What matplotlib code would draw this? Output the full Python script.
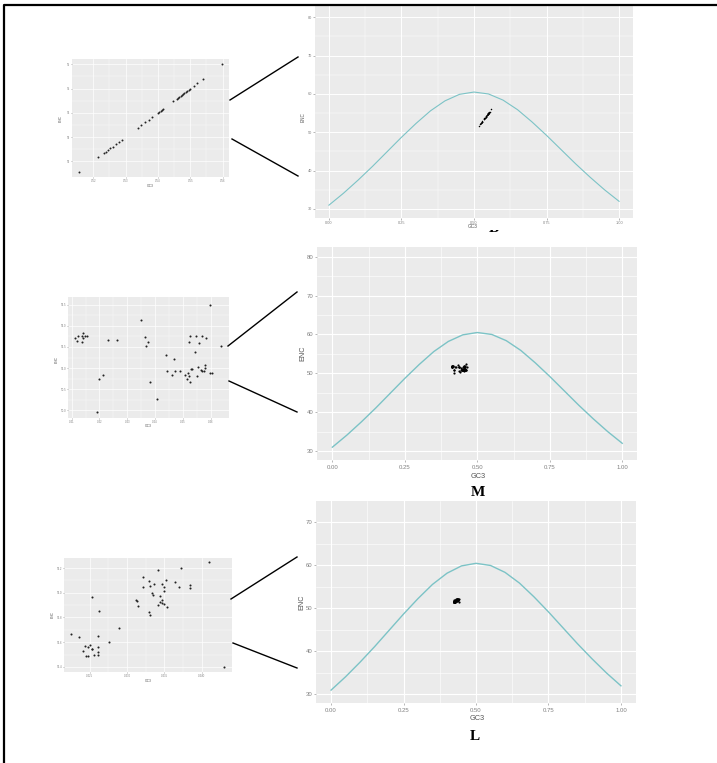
import numpy as np
import matplotlib.pyplot as plt
from matplotlib.lines import Line2D
from matplotlib.transforms import Bbox, TransformedBbox

W, H = 717, 763

# expected ENC curve
curve_gc3 = [0.00, 0.05, 0.10, 0.15, 0.20, 0.25, 0.30, 0.35, 0.40, 0.45, 0.50,
             0.55, 0.60, 0.65, 0.70, 0.75, 0.80, 0.85, 0.90, 0.95, 1.00]
curve_enc = [31.0, 34.1, 37.5, 41.1, 44.9, 48.7, 52.3, 55.6, 58.2, 59.9, 60.5,
             60.0, 58.4, 55.9, 52.7, 49.2, 45.5, 41.8, 38.3, 35.0, 32.0]

# panel B (top)
b_gc3 = [0.5157, 0.5216, 0.5234, 0.5240, 0.5245, 0.5253, 0.5260, 0.5271, 0.5279,
         0.5288, 0.5337, 0.5349, 0.5361, 0.5371, 0.5382, 0.5400, 0.5404, 0.5408,
         0.5412, 0.5416, 0.5446, 0.5458, 0.5462, 0.5466, 0.5470, 0.5474, 0.5478,
         0.5482, 0.5487, 0.5491, 0.5495, 0.5499, 0.5511, 0.5521, 0.5539, 0.5597]
b_enc = [51.56, 52.17, 52.35, 52.40, 52.46, 52.53, 52.60, 52.72, 52.80,
         52.88, 53.38, 53.50, 53.62, 53.72, 53.83, 54.00, 54.04, 54.08,
         54.13, 54.17, 54.47, 54.58, 54.62, 54.66, 54.70, 54.74, 54.79,
         54.83, 54.87, 54.91, 54.95, 54.99, 55.12, 55.21, 55.40, 56.00]

# panel M (middle)
m_gc3 = [0.4111, 0.4118, 0.4124, 0.4136, 0.4138, 0.4141, 0.4142, 0.4149, 0.4154,
         0.4191, 0.4200, 0.4213, 0.4231, 0.4263, 0.4348, 0.4363, 0.4366, 0.4373,
         0.4381, 0.4406, 0.4438, 0.4442, 0.4460, 0.4470, 0.4473, 0.4488, 0.4509,
         0.4516, 0.4520, 0.4522, 0.4523, 0.4526, 0.4527, 0.4528, 0.4532, 0.4545,
         0.4549, 0.4550, 0.4556, 0.4557, 0.4565, 0.4568, 0.4570, 0.4575, 0.4578,
         0.4580, 0.4584, 0.4596, 0.4596, 0.4604, 0.4638]
m_enc = [51.71, 51.64, 51.76, 51.62, 51.77, 51.84, 51.70, 51.76, 51.76,
         49.97, 50.75, 50.84, 51.66, 51.66, 52.13, 51.74, 51.53, 51.62,
         50.68, 50.27, 51.32, 50.92, 50.84, 51.21, 50.92, 50.92, 50.84,
         50.75, 50.89, 51.62, 50.81, 51.77, 50.67, 50.97, 50.99, 51.39,
         51.77, 50.82, 51.03, 51.59, 50.96, 51.76, 50.93, 50.93, 51.07,
         51.00, 51.72, 52.48, 50.89, 50.89, 51.53]

# panel L (bottom)
l_gc3 = [0.42254, 0.42357, 0.42406, 0.42433, 0.42455, 0.42478, 0.42482, 0.42504,
         0.42527, 0.42531, 0.42531, 0.42554, 0.42607, 0.42607, 0.42607, 0.42612,
         0.42630, 0.42755, 0.42885, 0.43118, 0.43136, 0.43140, 0.43212, 0.43212,
         0.43288, 0.43293, 0.43310, 0.43310, 0.43337, 0.43346, 0.43364, 0.43413,
         0.43418, 0.43435, 0.43440, 0.43462, 0.43462, 0.43467, 0.43489, 0.43494,
         0.43498, 0.43516, 0.43538, 0.43641, 0.43691, 0.43717, 0.43843, 0.43843,
         0.44098, 0.44295]
l_enc = [51.666, 51.639, 51.530, 51.568, 51.492, 51.492, 51.563, 51.579,
         51.546, 51.541, 51.964, 51.498, 51.563, 51.650, 51.519, 51.498,
         51.856, 51.598, 51.717, 51.942, 51.932, 51.891, 52.124, 52.045,
         51.845, 52.097, 52.051, 51.823, 51.997, 51.980, 52.067, 52.186,
         51.902, 51.975, 51.926, 51.915, 51.942, 52.067, 52.018, 51.907,
         52.045, 52.105, 51.885, 52.089, 52.043, 52.203, 52.062, 52.037,
         52.252, 51.400]

main_xticks = [0.00, 0.25, 0.50, 0.75, 1.00]
main_xlabels = ["0.00", "0.25", "0.50", "0.75", "1.00"]

CURVE_COLOR = "#7CC3C6"
PANEL_BG = "#EBEBEB"
TICK_COLOR = "#808080"
LABEL_COLOR = "#555555"

plt.rcParams["font.family"] = ["Liberation Sans", "DejaVu Sans"]

fig = plt.figure(figsize=(W / 100, H / 100), dpi=100)


def px_axes(x0, y0, x1, y1):
    return fig.add_axes([x0 / W, 1 - y1 / H, (x1 - x0) / W, (y1 - y0) / H])


def ptext(x, y, s, **kw):
    return fig.text(x / W, 1 - y / H, s, **kw)


def pline(x0, y0, x1, y1, lw=1.0):
    fig.add_artist(Line2D([x0 / W, x1 / W], [1 - y0 / H, 1 - y1 / H],
                          color="black", lw=lw, transform=fig.transFigure))


def gg_style(ax, xticks, xlabels, yticks, ylabels, xlim, ylim, fs, tlen, xpad, ypad, glw):
    ax.set_facecolor(PANEL_BG)
    for sp in ax.spines.values():
        sp.set_visible(False)
    ax.set_xlim(xlim)
    ax.set_ylim(ylim)
    ax.set_xticks(xticks)
    ax.set_xticklabels(xlabels)
    ax.set_yticks(yticks)
    ax.set_yticklabels(ylabels)
    xt = np.array(xticks)
    yt = np.array(yticks)
    ax.set_xticks((xt[:-1] + xt[1:]) / 2, minor=True)
    ax.set_yticks((yt[:-1] + yt[1:]) / 2, minor=True)
    ax.grid(which="major", color="white", lw=glw)
    ax.grid(which="minor", color="white", lw=glw * 0.5)
    ax.set_axisbelow(True)
    ax.tick_params(which="major", length=tlen, width=0.4, color=TICK_COLOR,
                   labelsize=fs, labelcolor=TICK_COLOR)
    ax.tick_params(axis="x", pad=xpad)
    ax.tick_params(axis="y", pad=ypad)
    ax.tick_params(which="minor", length=0)


main_yticks = [30, 40, 50, 60, 70, 80]

# ---------------- row B ----------------
ax1 = px_axes(315, 5, 633, 218)
gg_style(ax1, main_xticks, main_xlabels, main_yticks, [str(v) for v in main_yticks],
         (-0.048, 1.048), (27.65, 83.2), 2.8, 1.2, 0.8, 0.8, 0.7)
ax1.plot(curve_gc3, curve_enc, color=CURVE_COLOR, lw=0.8)
ax1.scatter(b_gc3, b_enc, s=1.2, color="black", lw=0)
ptext(303, 117, "ENC", rotation=90, fontsize=3.3, color=LABEL_COLOR, ha="center", va="center")
ptext(473, 226, "GC3", fontsize=3.5, color=LABEL_COLOR, ha="center", va="center")

ins1 = px_axes(72, 59, 229, 177)
gg_style(ins1, [0.52, 0.53, 0.54, 0.55, 0.56], ["0.52", "0.53", "0.54", "0.55", "0.56"],
         [52, 53, 54, 55, 56], ["52", "53", "54", "55", "56"],
         (0.5134, 0.5620), (51.35, 56.22), 2.0, 0.8, 0.6, 0.6, 0.5)
ins1.scatter(b_gc3, b_enc, s=2.0, color="#222222", lw=0)
ptext(61, 118, "ENC", rotation=90, fontsize=2.4, color=LABEL_COLOR, ha="center", va="center")
ptext(150, 186, "GC3", fontsize=2.4, color=LABEL_COLOR, ha="center", va="center")

pline(230, 100, 298, 57)
pline(232, 139, 298, 176)

# partly hidden panel letter under the top plot
btxt = ptext(494, 228, "B", fontsize=11, fontweight="bold", family="Liberation Serif",
             ha="center", va="center", color="black")
btxt.set_clip_box(TransformedBbox(Bbox([[480 / W, 1 - 236 / H], [510 / W, 1 - 230 / H]]),
                                  fig.transFigure))
btxt.set_clip_on(True)

# ---------------- row M ----------------
ax2 = px_axes(317, 247, 637, 460)
gg_style(ax2, main_xticks, main_xlabels, main_yticks, [str(v) for v in main_yticks],
         (-0.053, 1.051), (27.7, 82.5), 4.3, 1.5, 2.3, 1.3, 0.8)
ax2.plot(curve_gc3, curve_enc, color=CURVE_COLOR, lw=1.0)
ax2.scatter(m_gc3, m_enc, s=2.5, color="black", lw=0)
ptext(303, 353, "ENC", rotation=90, fontsize=5.2, color=LABEL_COLOR, ha="center", va="center")
ptext(478, 476, "GC3", fontsize=5.3, color=LABEL_COLOR, ha="center", va="center")
ptext(478, 492, "M", fontsize=11, fontweight="bold", family="Liberation Serif",
      ha="center", va="center", color="black")

ins2 = px_axes(68, 297, 229, 418)
gg_style(ins2, [0.41, 0.42, 0.43, 0.44, 0.45, 0.46],
         ["0.41", "0.42", "0.43", "0.44", "0.45", "0.46"],
         [50.0, 50.5, 51.0, 51.5, 52.0, 52.5],
         ["50.0", "50.5", "51.0", "51.5", "52.0", "52.5"],
         (0.4087, 0.4666), (49.82, 52.68), 2.0, 0.8, 0.6, 0.6, 0.5)
ins2.scatter(m_gc3, m_enc, s=2.2, color="#222222", lw=0)
ptext(57, 360, "ENC", rotation=90, fontsize=2.4, color=LABEL_COLOR, ha="center", va="center")
ptext(148, 426, "GC3", fontsize=2.4, color=LABEL_COLOR, ha="center", va="center")

pline(228, 346, 297, 292)
pline(229, 381, 297, 412)

# ---------------- row L ----------------
ax3 = px_axes(316, 501, 636, 703)
gg_style(ax3, main_xticks, main_xlabels, [30, 40, 50, 60, 70], ["30", "40", "50", "60", "70"],
         (-0.052, 1.052), (28.0, 75.0), 4.3, 1.5, 2.3, 1.3, 0.8)
ax3.plot(curve_gc3, curve_enc, color=CURVE_COLOR, lw=1.0)
ax3.scatter(l_gc3, l_enc, s=2.5, color="black", lw=0)
ptext(302, 602, "ENC", rotation=90, fontsize=5.2, color=LABEL_COLOR, ha="center", va="center")
ptext(477, 719, "GC3", fontsize=5.3, color=LABEL_COLOR, ha="center", va="center")
ptext(475, 737, "L", fontsize=11, fontweight="bold", family="Liberation Serif",
      ha="center", va="center", color="black")

ins3 = px_axes(64, 558, 232, 672)
gg_style(ins3, [0.425, 0.430, 0.435, 0.440], ["0.425", "0.430", "0.435", "0.440"],
         [51.4, 51.6, 51.8, 52.0, 52.2], ["51.4", "51.6", "51.8", "52.0", "52.2"],
         (0.42155, 0.44404), (51.359, 52.281), 2.0, 0.8, 0.6, 0.6, 0.5)
ins3.scatter(l_gc3, l_enc, s=2.2, color="#222222", lw=0)
ptext(53, 614, "ENC", rotation=90, fontsize=2.4, color=LABEL_COLOR, ha="center", va="center")
ptext(148, 681, "GC3", fontsize=2.4, color=LABEL_COLOR, ha="center", va="center")

pline(231, 599, 297, 557)
pline(233, 643, 297, 668)

# frame (top and left edges only, the rest is cropped away)
fig.add_artist(Line2D([4 / W, 4 / W, 1.0], [0.0, 1 - 5 / H, 1 - 5 / H],
                      color="black", lw=1.6, transform=fig.transFigure))

fig.savefig("out.png", dpi=100)
